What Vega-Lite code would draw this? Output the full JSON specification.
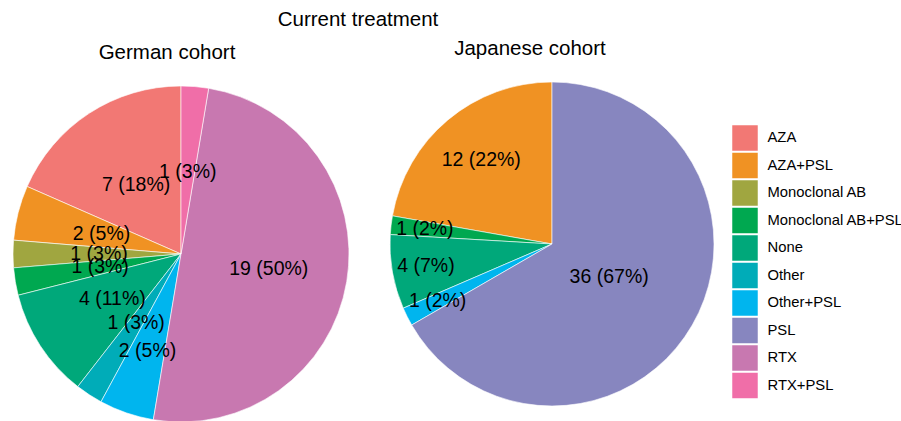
{
  "$schema": "https://vega.github.io/schema/vega-lite/v6.json",
  "background": "white",
  "padding": {"left": 5, "top": 9, "right": 5, "bottom": 5},
  "title": {"text": "Current treatment", "fontSize": 20.5, "font": "Liberation Sans", "fontWeight": "normal", "color": "black", "anchor": "middle", "dx": -116, "offset": 9},
  "data": {
    "values": [
      {"cohort": "German", "treatment": "AZA", "n": 7, "label": "7 (18%)"},
      {"cohort": "German", "treatment": "AZA+PSL", "n": 2, "label": "2 (5%)"},
      {"cohort": "German", "treatment": "Monoclonal AB", "n": 1, "label": "1 (3%)"},
      {"cohort": "German", "treatment": "Monoclonal AB+PSL", "n": 1, "label": "1 (3%)"},
      {"cohort": "German", "treatment": "None", "n": 4, "label": "4 (11%)"},
      {"cohort": "German", "treatment": "Other", "n": 1, "label": "1 (3%)"},
      {"cohort": "German", "treatment": "Other+PSL", "n": 2, "label": "2 (5%)"},
      {"cohort": "German", "treatment": "RTX", "n": 19, "label": "19 (50%)"},
      {"cohort": "German", "treatment": "RTX+PSL", "n": 1, "label": "1 (3%)"},
      {"cohort": "Japanese", "treatment": "AZA+PSL", "n": 12, "label": "12 (22%)"},
      {"cohort": "Japanese", "treatment": "Monoclonal AB+PSL", "n": 1, "label": "1 (2%)"},
      {"cohort": "Japanese", "treatment": "None", "n": 4, "label": "4 (7%)"},
      {"cohort": "Japanese", "treatment": "Other+PSL", "n": 1, "label": "1 (2%)"},
      {"cohort": "Japanese", "treatment": "PSL", "n": 36, "label": "36 (67%)"}
    ]
  },
  "spacing": 31,
  "resolve": {"scale": {"color": "shared"}},
  "hconcat": [
    {
      "width": 352,
      "height": 336,
      "title": {"text": "German cohort", "dx": -14, "offset": 21},
      "transform": [{"filter": "datum.cohort == 'German'"}],
      "encoding": {
        "theta": {"field": "n", "type": "quantitative", "stack": true},
        "order": {"field": "treatment", "sort": "descending"}
      },
      "layer": [
        {
          "mark": {"type": "arc", "outerRadius": 168, "stroke": "white", "strokeWidth": 0.6},
          "encoding": {
            "color": {
              "field": "treatment", "type": "nominal",
              "scale": {
                "domain": ["AZA", "AZA+PSL", "Monoclonal AB", "Monoclonal AB+PSL", "None", "Other", "Other+PSL", "PSL", "RTX", "RTX+PSL"],
                "range": ["#F27874", "#F09223", "#A0A640", "#00A850", "#00A87A", "#00ACB8", "#00B5EE", "#8786BF", "#C878B0", "#F06EA8"]
              },
              "legend": {"title": null}
            }
          }
        },
        {
          "mark": {"type": "text", "radius": {"expr": "datum.treatment === 'Other+PSL' ? 103 : datum.treatment === 'RTX' ? 89 : 82"}, "fontSize": 19.5, "font": "Liberation Sans", "color": "black"},
          "encoding": {"text": {"field": "label"}, "detail": {"field": "treatment"}}
        }
      ]
    },
    {
      "width": 324,
      "height": 316,
      "title": {"text": "Japanese cohort", "dx": -22, "offset": 21},
      "transform": [{"filter": "datum.cohort == 'Japanese'"}],
      "encoding": {
        "theta": {"field": "n", "type": "quantitative", "stack": true},
        "order": {"field": "treatment", "sort": "descending"}
      },
      "layer": [
        {
          "mark": {"type": "arc", "outerRadius": 162, "stroke": "white", "strokeWidth": 0.6},
          "encoding": {
            "color": {
              "field": "treatment", "type": "nominal",
              "scale": {
                "domain": ["AZA", "AZA+PSL", "Monoclonal AB", "Monoclonal AB+PSL", "None", "Other", "Other+PSL", "PSL", "RTX", "RTX+PSL"],
                "range": ["#F27874", "#F09223", "#A0A640", "#00A850", "#00A87A", "#00ACB8", "#00B5EE", "#8786BF", "#C878B0", "#F06EA8"]
              },
              "legend": {"title": null}
            }
          }
        },
        {
          "mark": {"type": "text", "radius": {"expr": "datum.treatment === 'PSL' ? 66 : datum.treatment === 'AZA+PSL' ? 110 : 128"}, "fontSize": 19.5, "font": "Liberation Sans", "color": "black"},
          "encoding": {"text": {"field": "label"}, "detail": {"field": "treatment"}}
        }
      ]
    }
  ],
  "config": {
    "view": {"stroke": null},
    "title": {"fontSize": 20.5, "font": "Liberation Sans", "fontWeight": "normal", "color": "black", "anchor": "middle"},
    "legend": {
      "orient": "right",
      "offset": -23,
      "padding": 39,
      "symbolType": "square",
      "symbolSize": 650,
      "symbolStrokeWidth": 0,
      "symbolOpacity": 1,
      "labelFont": "Liberation Sans",
      "labelFontSize": 14.8,
      "labelColor": "black",
      "labelOffset": 9.5,
      "rowPadding": 1.5
    }
  }
}
